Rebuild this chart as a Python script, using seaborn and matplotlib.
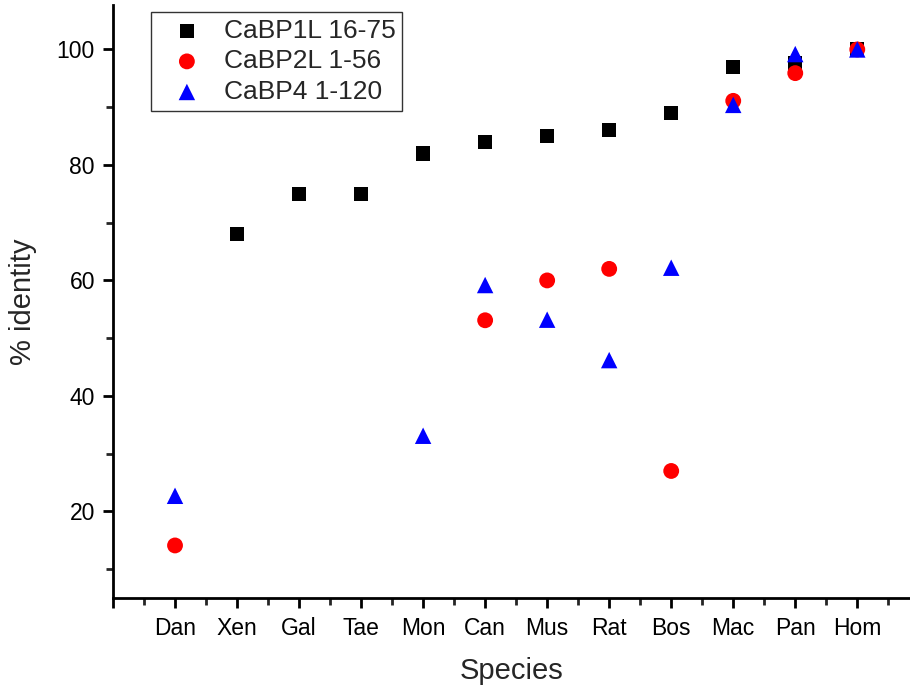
import numpy as np
import pandas as pd
import matplotlib
matplotlib.use("Agg")
import matplotlib.pyplot as plt
from matplotlib.ticker import FixedLocator
import seaborn as sns

species = ['Dan', 'Xen', 'Gal', 'Tae', 'Mon', 'Can', 'Mus', 'Rat', 'Bos', 'Mac', 'Pan', 'Hom']
cabp1l = [np.nan, 68, 75, 75, 82, 84, 85, 86, 89, 97, 97.7, 100]
cabp2l = [14.1, np.nan, np.nan, np.nan, np.nan, 53.1, 60, 62, 27, 91.1, 95.9, 100]
cabp4 = [22.7, np.nan, np.nan, np.nan, 33.1, 59.2, 53.2, 46.2, 62.2, 90.4, 99.2, 100]

series = [
    ('CaBP1L 16-75', cabp1l, 's', 'black', 105),
    ('CaBP2L 1-56', cabp2l, 'o', 'red', 130),
    ('CaBP4 1-120', cabp4, '^', 'blue', 140),
]

sns.set_theme(style="ticks")
plt.rcParams['font.family'] = ['Liberation Sans', 'DejaVu Sans']

fig = plt.figure(figsize=(9.1, 6.87), dpi=100)
ax = fig.add_axes([113 / 910, 89 / 687, 797 / 910, 593 / 687])

pos = np.arange(1, len(species) + 1)
for name, vals, mk, col, sz in series:
    df = pd.DataFrame({'x': pos, 'y': vals}).dropna()
    sns.scatterplot(data=df, x='x', y='y', marker=mk, color=col, s=sz,
                    edgecolor='none', linewidth=0, label=name, ax=ax, zorder=3)

ax.set_xlim(0, 12.85)
ax.set_ylim(5, 107.7)

ax.xaxis.set_major_locator(FixedLocator(np.arange(0, 14)))
ax.set_xticklabels([''] + species + [''])
ax.xaxis.set_minor_locator(FixedLocator(np.arange(0.5, 13, 1)))
ax.yaxis.set_major_locator(FixedLocator([20, 40, 60, 80, 100]))
ax.yaxis.set_minor_locator(FixedLocator([10, 30, 50, 70, 90]))

ax.tick_params(axis='both', which='major', length=7, width=2, direction='out',
               labelsize=16.5, colors='black', pad=6)
ax.tick_params(axis='both', which='minor', length=5, width=2, direction='out')
ax.tick_params(axis='x', which='major', pad=7)

for side in ['top', 'right']:
    ax.spines[side].set_visible(False)
for side in ['left', 'bottom']:
    ax.spines[side].set_linewidth(2)
    ax.spines[side].set_color('black')

ax.set_xlabel('Species', fontsize=21, labelpad=12)
ax.set_ylabel('% identity', fontsize=21, labelpad=14)

leg = ax.legend(loc='upper left', bbox_to_anchor=(0.048, 0.988), fontsize=19,
                frameon=True, fancybox=False, borderpad=0.25, labelspacing=0.25,
                handlelength=2.2, handletextpad=0.3, borderaxespad=0,
                markerscale=1.0)
leg.get_frame().set_edgecolor('black')
leg.get_frame().set_linewidth(1)

fig.savefig('out.png', dpi=100)
